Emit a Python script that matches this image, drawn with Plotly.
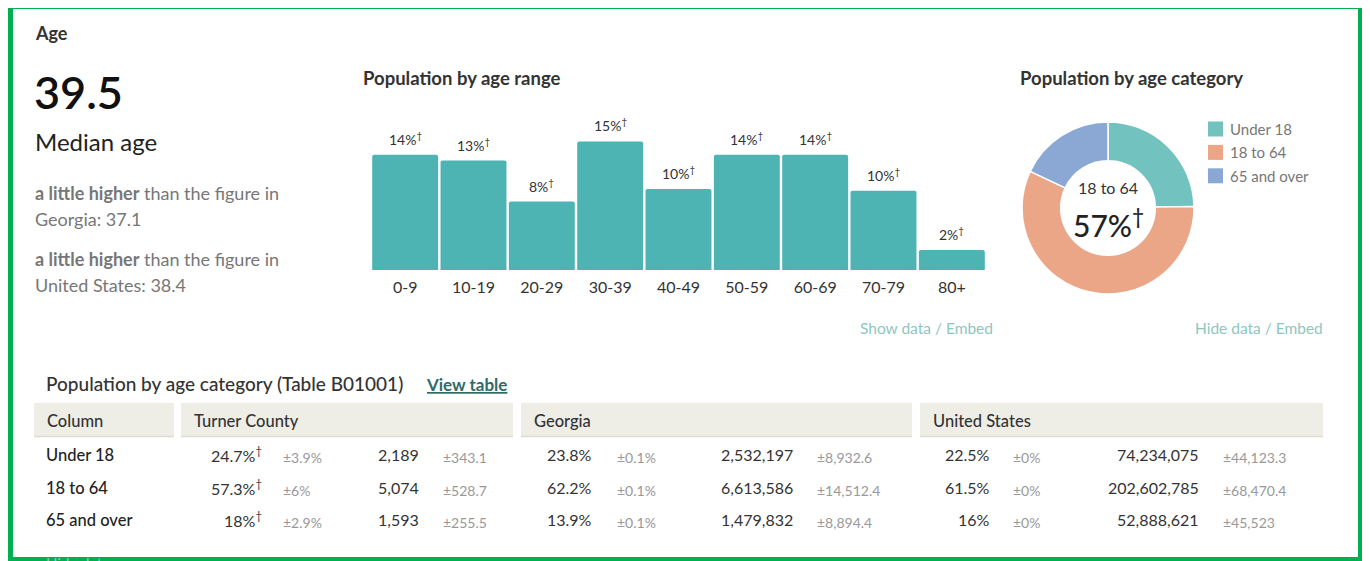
import plotly.graph_objects as go

W, H = 1370, 561
OFF = 8  # page body margin offset

# ---------------- data ----------------
age_ranges = ["0-9", "10-19", "20-29", "30-39", "40-49", "50-59", "60-69", "70-79", "80+"]
age_pct = [13.8, 13.1, 8.2, 15.4, 9.7, 13.8, 13.8, 9.5, 2.4]

cat_labels = ["Under 18", "18 to 64", "65 and over"]
cat_pct = [24.7, 57.3, 18.0]
cat_colors = ["#72c3bf", "#eba587", "#8ba8d5"]

median_age = "39.5"
state_name, state_median = "Georgia", "37.1"
nation_name, nation_median = "United States", "38.4"

turner_pct = ["24.7%", "57.3%", "18%"]
turner_pct_moe = ["±3.9%", "±6%", "±2.9%"]
turner_cnt = ["2,189", "5,074", "1,593"]
turner_cnt_moe = ["±343.1", "±528.7", "±255.5"]

georgia_pct = ["23.8%", "62.2%", "13.9%"]
georgia_pct_moe = ["±0.1%", "±0.1%", "±0.1%"]
georgia_cnt = ["2,532,197", "6,613,586", "1,479,832"]
georgia_cnt_moe = ["±8,932.6", "±14,512.4", "±8,894.4"]

us_pct = ["22.5%", "61.5%", "16%"]
us_pct_moe = ["±0%", "±0%", "±0%"]
us_cnt = ["74,234,075", "202,602,785", "52,888,621"]
us_cnt_moe = ["±44,123.3", "±68,470.4", "±45,523"]

# ---------------- helpers ----------------
def px(x):
    return (x - OFF) / W

def py(y):
    return 1 - (y - OFF) / H

FONT = "Lato, 'Open Sans', sans-serif"
DARK = "#333333"
GRAY = "#777777"
LIGHTLINK = "#8ec6bf"
BAR = "#4db3b3"

annotations = []
shapes = []

def text(x, y, s, size=15, color=DARK, xanchor="left", yanchor="middle", weight=400):
    if xanchor == "left":
        x -= 2
    elif xanchor == "right":
        x += 2
    annotations.append(dict(
        x=px(x), y=py(y), xref="paper", yref="paper", text=s, showarrow=False,
        xanchor=xanchor, yanchor=yanchor,
        font=dict(family=FONT, size=size, color=color, weight=weight),
    ))

fig = go.Figure()

# ---------------- bar chart ----------------
fig.add_trace(go.Bar(
    x=age_ranges, y=age_pct, marker=dict(color=BAR, cornerradius=2, line=dict(width=0)),
    hoverinfo="skip", showlegend=False, xaxis="x", yaxis="y",
))
for cat, v in zip(age_ranges, age_pct):
    annotations.append(dict(
        x=cat, y=v, xref="x", yref="y", text=f"{v:.0f}%<sup>†</sup>", showarrow=False,
        yanchor="bottom", yshift=5,
        font=dict(family=FONT, size=14, color=DARK),
    ))

bar_left, bar_right = 371, 986
base_y, top_y = 270, 120
px_per_pct = 8.35
fig.update_layout(
    xaxis=dict(domain=[px(bar_left), px(bar_right)], showgrid=False, zeroline=False,
               showline=False, ticks="", ticklabelstandoff=6,
               tickfont=dict(family=FONT, size=16, color=DARK),
               fixedrange=True),
    yaxis=dict(domain=[py(base_y), py(top_y)], range=[0, (base_y - top_y) / px_per_pct],
               visible=False, fixedrange=True),
    bargap=0.035,
)

# ---------------- donut ----------------
fig.add_trace(go.Pie(
    labels=cat_labels, values=cat_pct, hole=0.55, sort=False, direction="clockwise",
    rotation=0, marker=dict(colors=cat_colors, line=dict(color="white", width=1.5)),
    textinfo="none", hoverinfo="skip", showlegend=False,
    domain=dict(x=[px(1022), px(1194)], y=[py(294), py(122)]),
))
text(1108, 188, cat_labels[1], size=16, color=DARK, xanchor="center")
text(1108, 223, f"{cat_pct[1]:.0f}%<sup>†</sup>", size=30, color="#222", xanchor="center", weight=500)

# legend
for i, (lab, col) in enumerate(zip(cat_labels, cat_colors)):
    yc = 129 + i * 23.4
    shapes.append(dict(type="rect", xref="paper", yref="paper",
                       x0=px(1208), x1=px(1223), y0=py(yc - 7.5), y1=py(yc + 7.5),
                       fillcolor=col, line=dict(width=0)))
    text(1230, yc, lab, size=15, color=GRAY)

# ---------------- titles / left column ----------------
text(35, 33, "Age", size=18, color=DARK, weight=700)
text(34, 92, median_age, size=45, color="#111", weight=600)
text(35, 141, "Median age", size=24, color="#222")
text(35, 193, "<b>a little higher</b> than the figure in", size=18, color=GRAY)
text(35, 219, f"{state_name}: {state_median}", size=18, color=GRAY)
text(35, 259, "<b>a little higher</b> than the figure in", size=18, color=GRAY)
text(35, 285, f"{nation_name}: {nation_median}", size=18, color=GRAY)

text(363, 78, "Population by age range", size=18.5, color=DARK, weight=700)
text(1020, 78, "Population by age category", size=18.5, color=DARK, weight=700)

text(993, 328, "Show data / Embed", size=15.5, color=LIGHTLINK, xanchor="right")
text(1323, 328, "Hide data / Embed", size=15.5, color=LIGHTLINK, xanchor="right")

# ---------------- table ----------------
text(46, 383, "Population by age category (Table B01001)", size=19, color=DARK, weight=500)
text(426, 384, "<u>View table</u>", size=17, color="#2f6b69", weight=700)

header_segments = [(34, 174, "Column"), (181, 513, "Turner County"),
                   (521, 912, "Georgia"), (920, 1323, "United States")]
for x0, x1, lab in header_segments:
    shapes.append(dict(type="rect", xref="paper", yref="paper",
                       x0=px(x0), x1=px(x1), y0=py(436), y1=py(403),
                       fillcolor="#eeeee7", line=dict(width=0), layer="below"))
    shapes.append(dict(type="line", xref="paper", yref="paper",
                       x0=px(x0), x1=px(x1), y0=py(436.5), y1=py(436.5),
                       line=dict(color="#dcdcd2", width=1.5)))
    text(x0 + 13, 421, lab, size=16.5, color=DARK, weight=500)

row_y = [455, 488, 520]
groups = [
    (turner_pct, turner_pct_moe, turner_cnt, turner_cnt_moe, 262, 283, 419, 443, True),
    (georgia_pct, georgia_pct_moe, georgia_cnt, georgia_cnt_moe, 592, 617, 793, 817, False),
    (us_pct, us_pct_moe, us_cnt, us_cnt_moe, 990, 1013, 1199, 1223, False),
]
for i, yc in enumerate(row_y):
    text(46, yc, cat_labels[i], size=16.5, color="#222", weight=500)
    for pct, pmoe, cnt, cmoe, xp, xpm, xc, xcm, dag in groups:
        s = pct[i] + ("<sup>†</sup>" if dag else "")
        text(xp, yc - 1, s, size=16, color="#333", xanchor="right")
        text(xpm, yc + 2.5, pmoe[i], size=14, color="#999", xanchor="left")
        text(xc, yc - 1, cnt[i], size=16, color="#333", xanchor="right")
        text(xcm, yc + 2.5, cmoe[i], size=14, color="#999", xanchor="left")

text(46, 563, "Hide data", size=15, color=LIGHTLINK)

# ---------------- green frame ----------------
shapes.append(dict(type="rect", xref="paper", yref="paper",
                   x0=px(10), x1=px(1361), y0=py(560), y1=py(6),
                   line=dict(color="#00b050", width=6), fillcolor="rgba(0,0,0,0)"))

fig.update_layout(
    width=W, height=H, margin=dict(l=0, r=0, t=0, b=0),
    paper_bgcolor="white", plot_bgcolor="white",
    annotations=annotations, shapes=shapes, showlegend=False,
    font=dict(family=FONT),
)

fig.write_html("out.html", config={"displayModeBar": False})
